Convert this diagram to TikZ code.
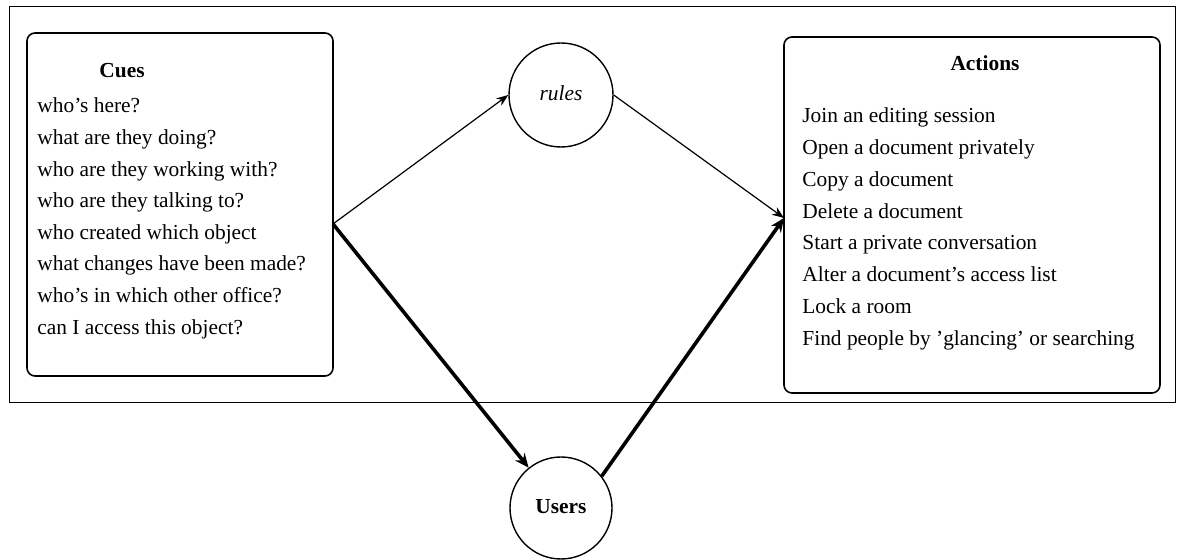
\documentclass[tikz,border=0pt]{standalone}
\usepackage{fontspec}
\setmainfont{Liberation Serif}
\usetikzlibrary{arrows.meta}
\begin{document}
\begin{tikzpicture}[x=0.5pt,y=-0.5pt,
  frame/.style={draw,line width=0.5pt},
  panel/.style={draw,line width=0.8pt,rounded corners=4pt,inner sep=0pt},
  agent/.style={draw,circle,line width=0.7pt,inner sep=0pt,font=\fontsize{10.7}{12}\selectfont},
  item/.style={anchor=base west,inner sep=0pt,font=\fontsize{10.7}{12}\selectfont},
  head/.style={anchor=base,inner sep=0pt,font=\fontsize{10.7}{12}\selectfont\bfseries},
  thinarrow/.style={line width=0.6pt,-{Stealth[length=6pt,width=4.5pt]}},
  thickarrow/.style={line width=1.8pt,-{Stealth[length=7pt,width=6pt]}},
]
\useasboundingbox (0,0) rectangle (1178,560);

% outer frame
\draw[frame] (9,7) rectangle (1175,403);

% the two panels
\node[panel,minimum width=153pt,minimum height=171.5pt] (cues) at (180,204.5) {};
\node[panel,minimum width=188pt,minimum height=178pt] (actions) at (972,215) {};

% cue list
\node[head] (cuestitle) at (122,78) {Cues};
\foreach \t [count=\i] in {who's here?,what are they doing?,who are they working with?,who are they talking to?,who created which object,what changes have been made?,who's in which other office?,can I access this object?}
  \node[item] (cue\i) at (37,{113+31.6*(\i-1)}) {\t};

% action list
\node[head] (actionstitle) at (985,71) {Actions};
\foreach \t [count=\i] in {Join an editing session,Open a document privately,Copy a document,Delete a document,Start a private conversation,Alter a document's access list,Lock a room,Find people by 'glancing' or searching}
  \node[item] (act\i) at (802,{122.7+31.8*(\i-1)}) {\t};

% agents
\node[agent,minimum size=52pt] (rules) at (561,95) {\raisebox{2pt}{\itshape rules}};
\node[agent,minimum size=51pt] (users) at (561,508) {\raisebox{2pt}{\bfseries Users}};

% connectors
\coordinate (cout) at (333,224);
\coordinate (ain) at (784,218);
\draw[thinarrow] (cout) -- (rules.west);
\draw[thinarrow] (rules.east) -- (ain);
\draw[thickarrow] (cout) -- (users);
\draw[thickarrow] (users.38) -- (ain);
\end{tikzpicture}
\end{document}
